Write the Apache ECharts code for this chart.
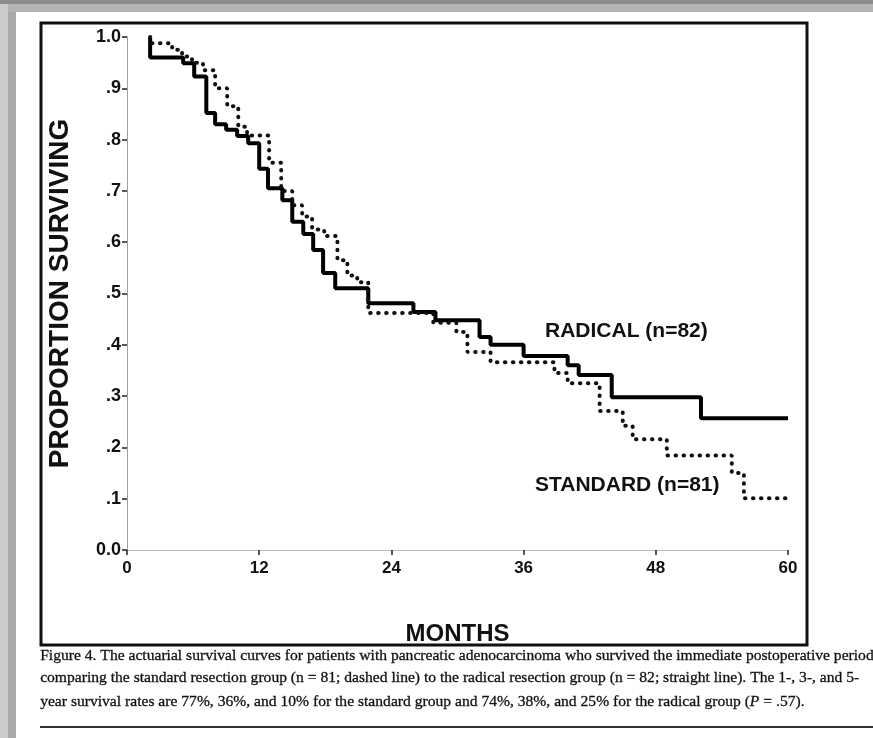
<!DOCTYPE html>
<html><head><meta charset="utf-8">
<script src="https://cdn.jsdelivr.net/npm/echarts@6/dist/echarts.min.js"></script>
<style>html,body{margin:0;padding:0;background:#fff}#c{width:873px;height:738px}</style>
</head><body><div id="c"></div>
<script>
// ---- data ----
const radicalMonths = [2.1, 2.1, 5.1, 6.1, 7.2, 8.0, 9.0, 10.0, 11.0, 12.0, 12.8, 14.1, 15.0, 16.0, 16.9, 17.8, 18.9, 21.9, 26.0, 28.0, 32.0, 33.0, 36.0, 40.0, 41.0, 44.0, 52.1, 60];
const radicalSurv   = [1.0, 0.960, 0.949, 0.923, 0.852, 0.830, 0.819, 0.807, 0.793, 0.743, 0.705, 0.682, 0.640, 0.616, 0.585, 0.540, 0.510, 0.481, 0.464, 0.448, 0.415, 0.400, 0.378, 0.360, 0.341, 0.298, 0.257, 0.257];
const standardMonths = [2.1, 2.1, 4.1, 5.0, 5.9, 6.9, 8.0, 9.1, 10.1, 10.9, 12.9, 14.0, 15.0, 15.9, 16.8, 17.9, 19.1, 20.0, 20.9, 21.9, 27.8, 29.9, 30.9, 33.0, 38.8, 40.0, 42.9, 45.0, 45.9, 49.0, 54.9, 56.0, 60];
const standardSurv   = [1.0, 0.988, 0.975, 0.962, 0.950, 0.935, 0.900, 0.865, 0.825, 0.808, 0.755, 0.700, 0.672, 0.650, 0.625, 0.612, 0.565, 0.535, 0.522, 0.462, 0.443, 0.425, 0.386, 0.366, 0.345, 0.325, 0.271, 0.242, 0.216, 0.184, 0.150, 0.101, 0.101];
const xTickLabels = ['0', '12', '24', '36', '48', '60'];
const yTickLabels = ['0.0', '.1', '.2', '.3', '.4', '.5', '.6', '.7', '.8', '.9', '1.0'];
const seriesNames = ['RADICAL (n=82)', 'STANDARD (n=81)'];
const captionLines = [
  'Figure 4. The actuarial survival curves for patients with pancreatic adenocarcinoma who survived the immediate postoperative period',
  'comparing the standard resection group (n = 81; dashed line) to the radical resection group (n = 82; straight line). The 1-, 3-, and 5-',
  'year survival rates are 77%, 36%, and 10% for the standard group and 74%, 38%, and 25% for the radical group ('
];

const zip = (a, b) => a.map((v, i) => [v, b[i]]);
const chart = echarts.init(document.getElementById('c'), null, {renderer: 'canvas'});
const sans = 'Liberation Sans, Arial, sans-serif';
const serif = 'Liberation Serif, Times New Roman, serif';
const capFont = '15.6px ' + serif;

const option = {
  animation: false,
  backgroundColor: '#fff',
  grid: {left: 127, right: 85, top: 37, bottom: 188, containLabel: false},
  xAxis: [{
    type: 'value', min: 0, max: 60, interval: 12,
    name: 'MONTHS', nameLocation: 'middle', nameGap: 72,
    nameTextStyle: {fontFamily: sans, fontWeight: 'bold', fontSize: 24, color: '#111'},
    axisLine: {show: true, lineStyle: {color: '#aaa', type: 'dotted', width: 1}},
    axisTick: {show: true, length: 5, lineStyle: {color: '#222', width: 1.5}},
    axisLabel: {fontFamily: sans, fontWeight: 'bold', fontSize: 17, color: '#111', margin: 10,
      formatter: v => xTickLabels[Math.round(v / 12)]},
    splitLine: {show: false}
  }, {
    type: 'value', min: 0, max: 60, position: 'top',
    axisLine: {show: true, lineStyle: {color: '#bbb', type: 'dotted', width: 1}},
    axisTick: {show: false}, axisLabel: {show: false}, splitLine: {show: false}
  }],
  yAxis: [{
    type: 'value', min: 0, max: 1, interval: 0.1,
    name: 'PROPORTION SURVIVING', nameLocation: 'middle', nameGap: 53, nameRotate: 90,
    nameTextStyle: {fontFamily: sans, fontWeight: 'bold', fontSize: 28, color: '#111'},
    axisLine: {show: true, lineStyle: {color: '#999', type: 'dotted', width: 1}},
    axisTick: {show: true, length: 5, lineStyle: {color: '#222', width: 1.5}},
    axisLabel: {fontFamily: sans, fontWeight: 'bold', fontSize: 18, color: '#111', margin: 6,
      formatter: v => yTickLabels[Math.round(v * 10)]},
    splitLine: {show: false}
  }, {
    type: 'value', min: 0, max: 1, position: 'right',
    axisLine: {show: true, lineStyle: {color: '#999', type: 'dotted', width: 1}},
    axisTick: {show: false}, axisLabel: {show: false}, splitLine: {show: false}
  }],
  series: [{
    name: seriesNames[0], type: 'line', step: 'end', showSymbol: false,
    data: zip(radicalMonths, radicalSurv),
    lineStyle: {color: '#000', width: 4}
  }, {
    name: seriesNames[1], type: 'line', step: 'end', showSymbol: false,
    data: zip(standardMonths, standardSurv),
    lineStyle: {color: '#111', width: 4, type: [0.5, 7.5], cap: 'round'}
  }],
  graphic: [
    // scan margins
    {type: 'rect', shape: {x: 0, y: 0, width: 873, height: 4}, style: {fill: '#8c8c8c'}, silent: true},
    {type: 'rect', shape: {x: 0, y: 4, width: 873, height: 8}, style: {fill: '#b3b3b3'}, silent: true},
    {type: 'rect', shape: {x: 0, y: 4, width: 8, height: 734}, style: {fill: '#cbcbcb'}, silent: true},
    {type: 'rect', shape: {x: 8, y: 12, width: 8, height: 726}, style: {fill: '#a9a9a9'}, silent: true},
    // figure frame
    {type: 'rect', shape: {x: 41, y: 23, width: 766, height: 622}, style: {fill: 'none', stroke: '#111', lineWidth: 3}, silent: true},
    // curve labels
    {type: 'text', left: 545, top: 321, style: {text: seriesNames[0], font: 'bold 21px ' + sans, fill: '#111'}},
    {type: 'text', left: 535, top: 475, style: {text: seriesNames[1], font: 'bold 21px ' + sans, fill: '#111'}},
    // caption
    {type: 'text', left: 40, top: 648, style: {text: captionLines[0], font: capFont, fill: '#111', stroke: '#111', lineWidth: 0.3}},
    {type: 'text', left: 40, top: 670, style: {text: captionLines[1], font: capFont, fill: '#111', stroke: '#111', lineWidth: 0.3}},
    {type: 'text', left: 40, top: 694, style: {
      text: '{n|' + captionLines[2] + '}{i|P}{n| = .57).}',
      rich: {n: {font: capFont, fill: '#111', stroke: '#111', lineWidth: 0.3}, i: {font: 'italic ' + capFont, fill: '#111', stroke: '#111', lineWidth: 0.3}}
    }},
    {type: 'rect', shape: {x: 40, y: 726, width: 833, height: 2}, style: {fill: '#333'}, silent: true}
  ]
};
chart.setOption(option);
</script>
</body></html>
